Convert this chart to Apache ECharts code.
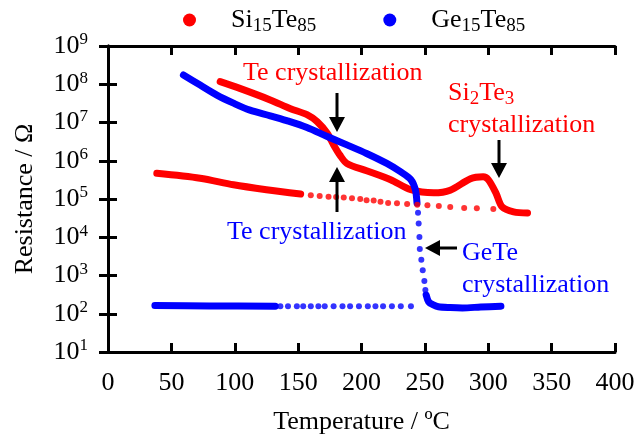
<!DOCTYPE html>
<html>
<head>
<meta charset="utf-8">
<script src="https://cdn.jsdelivr.net/npm/echarts@6/dist/echarts.min.js"></script>
<style>
  html, body { margin: 0; padding: 0; background: #fff; }
  #chart { width: 638px; height: 434px; }
</style>
</head>
<body>
<div id="chart"></div>
<script>
// Si15Te85 heating (dense part drawn as a thick line)
const siHeat = [
  [88.5, 1.17e8], [104, 7.8e7], [128, 3.9e7], [144, 2.3e7], [157, 1.6e7],
  [165, 1.05e7], [173, 5.2e6], [178, 2.6e6], [183, 1.4e6], [188.5, 8.5e5],
  [204, 5.5e5], [223, 3.2e5], [239, 1.75e5], [257, 1.45e5], [270, 1.7e5],
  [286, 3.4e5], [296, 3.8e5], [300, 3.2e5], [306, 1.45e5], [311, 6.2e4],
  [320, 4.6e4], [331, 4.3e4]
];
// Si15Te85 cooling, dense part
const siCoolLine = [
  [38.5, 4.7e5], [72.7, 3.5e5], [99, 2.35e5], [125, 1.75e5], [152, 1.35e5]
];
// Si15Te85 cooling, single dots
const siCoolDots = [
  [160, 1.26e5], [167, 1.2e5], [174, 1.15e5], [180, 1.12e5], [186, 1.1e5],
  [192.5, 1.05e5], [199, 1.0e5], [204, 9.3e4], [209.6, 9.1e4], [215, 8.5e4],
  [221, 7.9e4], [228, 7.8e4], [236, 7.4e4], [244, 7.1e4], [252, 6.9e4],
  [261, 6.6e4], [270, 6.2e4], [281, 5.8e4], [291, 5.7e4], [304, 5.5e4]
];
// Ge15Te85 heating, dense part
const geHeat = [
  [59.5, 1.75e8], [72.7, 9.5e7], [85.9, 5.2e7], [99, 3.2e7], [112, 2.1e7],
  [128, 1.5e7], [141, 1.12e7], [157, 7.4e6], [173, 4.3e6], [188.5, 2.6e6],
  [204, 1.55e6], [220, 8.5e5], [231, 5.1e5], [239, 3.2e5], [242.5, 1.75e5],
  [243.8, 7.8e4]
];
// Ge15Te85 drop, single dots
const geDrop = [
  [244.6, 4.4e4], [245.1, 2.3e4], [245.7, 1.02e4], [246, 4.9e3],
  [247.2, 2.6e3], [248.3, 1.38e3], [249.6, 7.2e2], [250.4, 4.2e2]
];
// Ge15Te85 after the drop, dense part
const geTail = [
  [251, 3.1e2], [253, 2.05e2], [256.7, 1.7e2], [260.7, 1.52e2], [270, 1.45e2],
  [279.6, 1.42e2], [294, 1.5e2], [310, 1.58e2]
];
// Ge15Te85 cooling, dense part
const geCoolLine = [[37, 1.65e2], [80, 1.6e2], [132, 1.58e2]];
// Ge15Te85 cooling, single dots
const geCoolDots = [
  [136, 1.58e2], [142, 1.58e2], [149, 1.58e2], [154, 1.58e2], [160, 1.58e2],
  [166, 1.58e2], [171, 1.58e2], [178, 1.58e2], [185, 1.58e2], [191, 1.58e2],
  [198, 1.58e2], [205, 1.58e2], [211, 1.58e2], [217, 1.58e2], [224, 1.58e2],
  [231, 1.58e2], [239, 1.58e2]
];

const xTicks = [0, 400, 50];
const yRange = [1e1, 1e9];
const names = ["Si15Te85", "Ge15Te85"];
const RED = "#ff0000";
const BLUE = "#0000ff";
const FONT = "Liberation Serif";

const axisLine = { lineStyle: { color: "#000", width: 3 } };
const axisTick = { inside: true, length: 9, lineStyle: { color: "#000", width: 3 } };

function lineSeries(name, data, color) {
  return {
    name: name,
    type: "line",
    data: data,
    showSymbol: false,
    smooth: 0.3,
    lineStyle: { color: color, width: 7, cap: "round", join: "round" },
    itemStyle: { color: color },
    z: 3
  };
}
function dotSeries(name, data, color) {
  return {
    name: name,
    type: "scatter",
    data: data,
    symbolSize: 6,
    itemStyle: { color: color },
    z: 3
  };
}

//legend text with subscripts
function formula(name) {
  return name === names[0]
    ? "{g|}{n|Si}{s|15}{n|Te}{s|85}"
    : "{g|}{n|Ge}{s|15}{n|Te}{s|85}";
}

function label(text, left, cy, color) {
  return {
    type: "text",
    x: left,
    y: cy,
    style: {
      text: text,
      fill: color,
      font: "26px '" + FONT + "'",
      textAlign: "left",
      textVerticalAlign: "middle",
      rich: {
        n: { fontSize: 26, fontFamily: FONT, fill: color },
        s: { fontSize: 19, fontFamily: FONT, fill: color, padding: [12, 0, 0, 0] }
      }
    },
    z: 10
  };
}

//arrow: shaft + triangular head, tip at (tx, ty)
function arrow(tx, ty, fx, fy) {
  const dx = fx - tx, dy = fy - ty;
  const len = Math.sqrt(dx * dx + dy * dy);
  const ux = dx / len, uy = dy / len;
  const head = 15, half = 8;
  const bx = tx + ux * head, by = ty + uy * head;
  return [
    {
      type: "line",
      shape: { x1: fx, y1: fy, x2: bx, y2: by },
      style: { stroke: "#000", lineWidth: 3 },
      z: 10
    },
    {
      type: "polygon",
      shape: {
        points: [
          [tx, ty],
          [bx - uy * half, by + ux * half],
          [bx + uy * half, by - ux * half]
        ]
      },
      style: { fill: "#000" },
      z: 10
    }
  ];
}

const option = {
  backgroundColor: "#fff",
  animation: false,
  grid: { left: 108, right: 23, top: 46, bottom: 82, containLabel: false, outerBoundsMode: "none" },
  legend: {
    data: names,
    top: 2,
    left: 178,
    icon: "circle",
    itemWidth: 13,
    itemHeight: 13,
    itemGap: 67,
    formatter: formula,
    textStyle: {
      color: "#000",
      rich: {
        g: { width: 30 },
        n: { fontSize: 26, fontFamily: FONT, color: "#000" },
        s: { fontSize: 19, fontFamily: FONT, color: "#000", padding: [12, 0, 0, 0] }
      }
    }
  },
  xAxis: [
    {
      type: "value",
      min: xTicks[0],
      max: xTicks[1],
      interval: xTicks[2],
      name: "Temperature / ºC",
      nameLocation: "middle",
      nameGap: 57,
      nameTextStyle: { fontFamily: FONT, fontSize: 26, color: "#000" },
      axisLine: axisLine,
      axisTick: axisTick,
      axisLabel: { fontFamily: FONT, fontSize: 26, color: "#000", margin: 18 },
      splitLine: { show: false }
    },
    {
      type: "value",
      position: "top",
      min: xTicks[0],
      max: xTicks[1],
      interval: xTicks[2],
      axisLine: axisLine,
      axisTick: axisTick,
      axisLabel: { show: false },
      splitLine: { show: false }
    }
  ],
  yAxis: [
    {
      type: "log",
      logBase: 10,
      min: yRange[0],
      max: yRange[1],
      splitNumber: 8,
      name: "Resistance / Ω",
      nameLocation: "middle",
      nameGap: 70,
      nameTextStyle: { fontFamily: FONT, fontSize: 26, color: "#000" },
      axisLine: axisLine,
      axisTick: axisTick,
      axisLabel: {
        margin: 20,
        formatter: function(v) {
          return "{b|10}{e|" + Math.round(Math.log10(v)) + "}";
        },
        rich: {
          b: { fontFamily: FONT, fontSize: 26, color: "#000" },
          e: { fontFamily: FONT, fontSize: 17, color: "#000", padding: [0, 0, 12, 0] }
        }
      },
      splitLine: { show: false }
    },
    {
      type: "log",
      logBase: 10,
      position: "right",
      min: yRange[0],
      max: yRange[1],
      splitNumber: 8,
      axisLine: axisLine,
      axisTick: axisTick,
      axisLabel: { show: false },
      splitLine: { show: false }
    }
  ],
  series: [
    lineSeries(names[0], siHeat, RED),
    lineSeries(names[0], siCoolLine, RED),
    dotSeries(names[0], siCoolDots, RED),
    lineSeries(names[1], geHeat, BLUE),
    dotSeries(names[1], geDrop, BLUE),
    lineSeries(names[1], geTail, BLUE),
    lineSeries(names[1], geCoolLine, BLUE),
    dotSeries(names[1], geCoolDots, BLUE)
  ],
  graphic: [
    label("Te crystallization", 243, 73, RED),
    label("Te crystallization", 227, 232, BLUE),
    label("{n|Si}{s|2}{n|Te}{s|3}", 448, 93, RED),
    label("crystallization", 448, 125, RED),
    label("GeTe", 462, 253, BLUE),
    label("crystallization", 462, 285, BLUE)
  ]
    .concat(arrow(337, 132, 337, 93))
    .concat(arrow(337, 167, 337, 212))
    .concat(arrow(499, 178, 499, 140))
    .concat(arrow(425, 248, 457, 248))
};

const chart = echarts.init(document.getElementById("chart"));
chart.setOption(option);
</script>
</body>
</html>
